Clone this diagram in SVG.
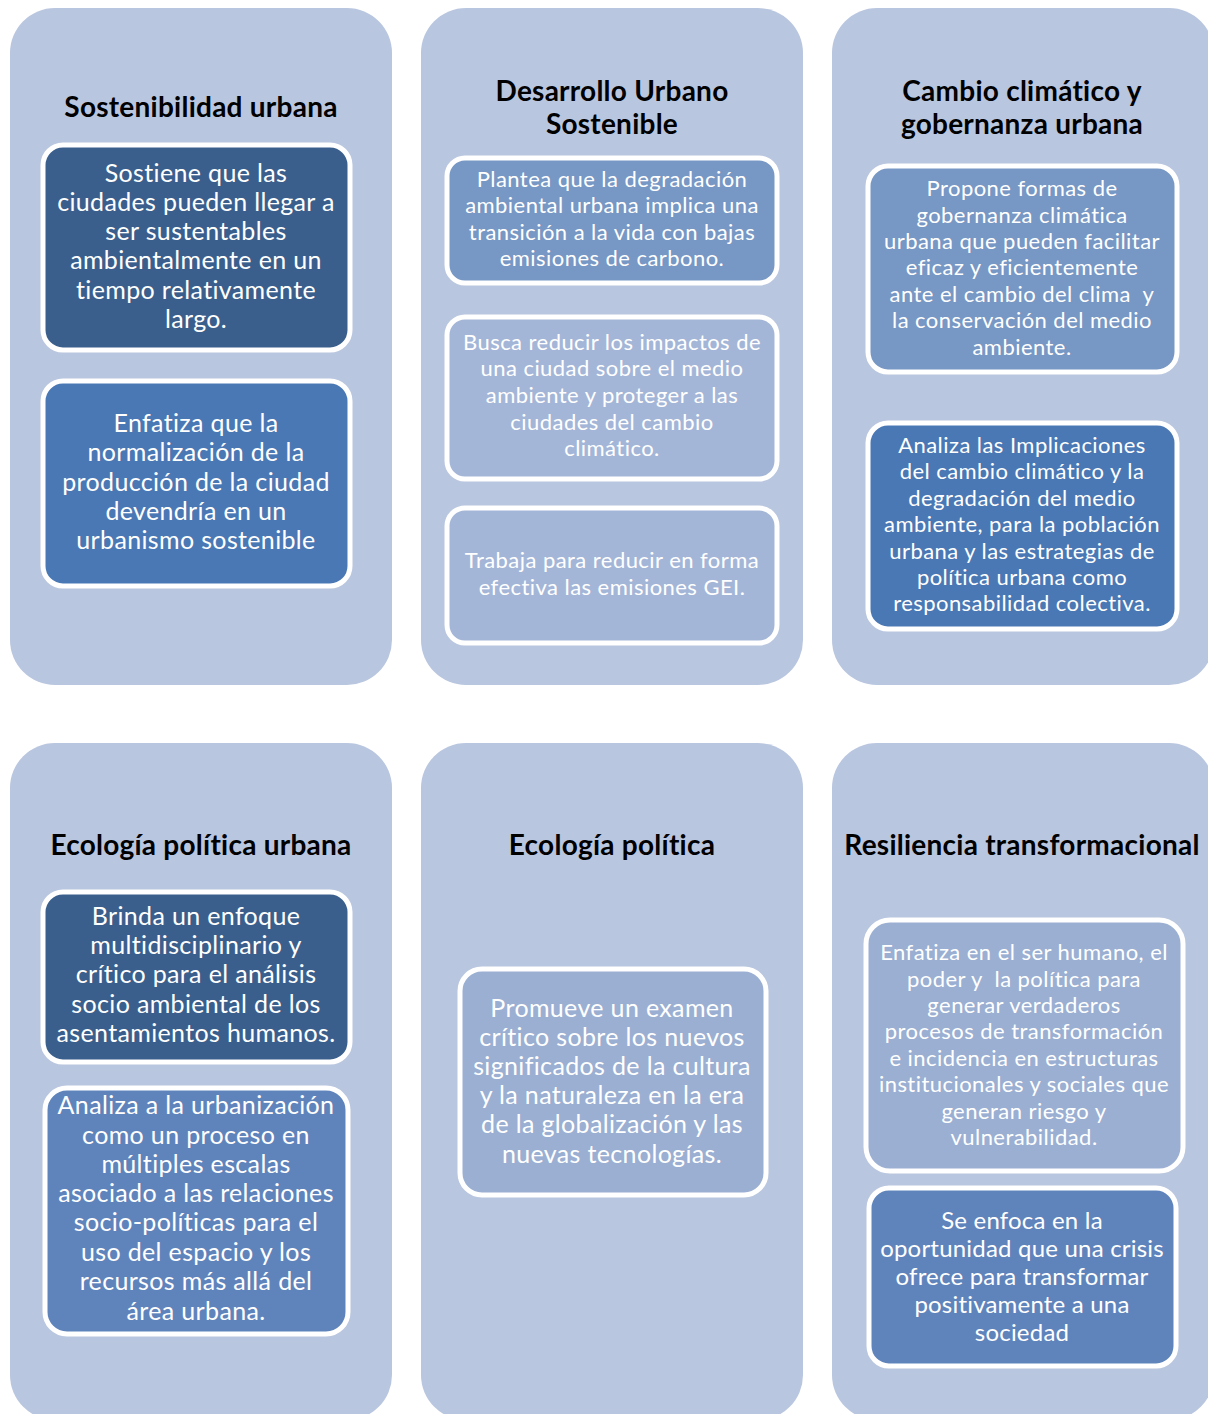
<svg xmlns="http://www.w3.org/2000/svg" width="1208" height="1414" viewBox="0 0 1208 1414">
<style>
.panel{fill:#B9C6DF}
.box{stroke:#FFFFFF;stroke-width:5}
.title{font-family:Lato,"Noto Sans",sans-serif;font-weight:bold;font-size:28px;letter-spacing:0.25px;fill:#000;text-anchor:middle}
.t{font-family:Lato,"Noto Sans",sans-serif;fill:#FFFFFF;text-anchor:middle}
.l{font-size:25px;letter-spacing:0.35px}
.s{font-size:22px;letter-spacing:0.45px}
.m{font-size:24px;letter-spacing:0.2px}
.pre{white-space:pre}
.c1{fill:#3A5F8D}.c2{fill:#4A78B4}.c3{fill:#7797C4}.c4{fill:#A4B6D7}.c5{fill:#9AAFD2}.c6{fill:#5F84BC}
</style>
<g id="connectors"></g>
<g id="panel-sostenibilidad">
<rect class="panel" x="10" y="8" width="382" height="677" rx="45"/>
<text class="title" x="201" y="117">Sostenibilidad urbana</text>
</g>
<g id="node-sost-1">
<rect class="box c1" x="43" y="145" width="307" height="205" rx="20"/>
<text class="t l" x="196" y="182">Sostiene que las</text>
<text class="t l" x="196" y="211">ciudades pueden llegar a</text>
<text class="t l" x="196" y="240">ser sustentables</text>
<text class="t l" x="196" y="269">ambientalmente en un</text>
<text class="t l" x="196" y="299">tiempo relativamente</text>
<text class="t l" x="196" y="328">largo.</text>
</g>
<g id="node-sost-2">
<rect class="box c2" x="43" y="381" width="307" height="205" rx="20"/>
<text class="t l" x="196" y="432">Enfatiza que la</text>
<text class="t l" x="196" y="461">normalización de la</text>
<text class="t l" x="196" y="491">producción de la ciudad</text>
<text class="t l" x="196" y="520">devendría en un</text>
<text class="t l" x="196" y="549">urbanismo sostenible</text>
</g>
<g id="panel-desarrollo">
<rect class="panel" x="421" y="8" width="382" height="677" rx="45"/>
<text class="title" x="612" y="101">Desarrollo Urbano</text>
<text class="title" x="612" y="134">Sostenible</text>
</g>
<g id="node-des-1">
<rect class="box c3" x="447" y="158" width="330" height="125" rx="18"/>
<text class="t s" x="612" y="187">Plantea que la degradación</text>
<text class="t s" x="612" y="213">ambiental urbana implica una</text>
<text class="t s" x="612" y="240">transición a la vida con bajas</text>
<text class="t s" x="612" y="266">emisiones de carbono.</text>
</g>
<g id="node-des-2">
<rect class="box c4" x="447" y="317" width="330" height="162" rx="18"/>
<text class="t s" x="612" y="350">Busca reducir los impactos de</text>
<text class="t s" x="612" y="376">una ciudad sobre el medio</text>
<text class="t s" x="612" y="403">ambiente y proteger a las</text>
<text class="t s" x="612" y="430">ciudades del cambio</text>
<text class="t s" x="612" y="456">climático.</text>
</g>
<g id="node-des-3">
<rect class="box c4" x="447" y="508" width="330" height="135" rx="18"/>
<text class="t s" x="612" y="568">Trabaja para reducir en forma</text>
<text class="t s" x="612" y="595">efectiva las emisiones GEI.</text>
</g>
<g id="panel-cambio">
<rect class="panel" x="832" y="8" width="382" height="677" rx="45"/>
<text class="title" x="1022" y="101">Cambio climático y</text>
<text class="title" x="1022" y="134">gobernanza urbana</text>
</g>
<g id="node-cam-1">
<rect class="box c3" x="868" y="166" width="309" height="206" rx="20"/>
<text class="t s" x="1022" y="196">Propone formas de</text>
<text class="t s" x="1022" y="223">gobernanza climática</text>
<text class="t s" x="1022" y="249">urbana que pueden facilitar</text>
<text class="t s" x="1022" y="275">eficaz y eficientemente</text>
<text class="t s pre" x="1022" y="302">ante el cambio del clima  y</text>
<text class="t s" x="1022" y="328">la conservación del medio</text>
<text class="t s" x="1022" y="355">ambiente.</text>
</g>
<g id="node-cam-2">
<rect class="box c2" x="868" y="423" width="309" height="206" rx="20"/>
<text class="t s" x="1022" y="453">Analiza las Implicaciones</text>
<text class="t s" x="1022" y="479">del cambio climático y la</text>
<text class="t s" x="1022" y="506">degradación del medio</text>
<text class="t s" x="1022" y="532">ambiente, para la población</text>
<text class="t s" x="1022" y="559">urbana y las estrategias de</text>
<text class="t s" x="1022" y="585">política urbana como</text>
<text class="t s" x="1022" y="611">responsabilidad colectiva.</text>
</g>
<g id="panel-epu">
<rect class="panel" x="10" y="743" width="382" height="677" rx="45"/>
<text class="title" x="201" y="855">Ecología política urbana</text>
</g>
<g id="node-epu-1">
<rect class="box c1" x="43" y="892" width="307" height="170" rx="20"/>
<text class="t l" x="196" y="925">Brinda un enfoque</text>
<text class="t l" x="196" y="954">multidisciplinario y</text>
<text class="t l" x="196" y="983">crítico para el análisis</text>
<text class="t l" x="196" y="1013">socio ambiental de los</text>
<text class="t l" x="196" y="1042">asentamientos humanos.</text>
</g>
<g id="node-epu-2">
<rect class="box c6" x="45" y="1088" width="303" height="246" rx="22"/>
<text class="t l" x="196" y="1114">Analiza a la urbanización</text>
<text class="t l" x="196" y="1144">como un proceso en</text>
<text class="t l" x="196" y="1173">múltiples escalas</text>
<text class="t l" x="196" y="1202">asociado a las relaciones</text>
<text class="t l" x="196" y="1231">socio-políticas para el</text>
<text class="t l" x="196" y="1261">uso del espacio y los</text>
<text class="t l" x="196" y="1290">recursos más allá del</text>
<text class="t l" x="196" y="1320">área urbana.</text>
</g>
<g id="panel-ep">
<rect class="panel" x="421" y="743" width="382" height="677" rx="45"/>
<text class="title" x="612" y="855">Ecología política</text>
</g>
<g id="node-ep-1">
<rect class="box c5" x="460" y="969" width="306" height="226" rx="22"/>
<text class="t l" x="612" y="1017">Promueve un examen</text>
<text class="t l" x="612" y="1046">crítico sobre los nuevos</text>
<text class="t l" x="612" y="1075">significados de la cultura</text>
<text class="t l" x="612" y="1104">y la naturaleza en la era</text>
<text class="t l" x="612" y="1133">de la globalización y las</text>
<text class="t l" x="612" y="1163">nuevas tecnologías.</text>
</g>
<g id="panel-rt">
<rect class="panel" x="832" y="743" width="382" height="677" rx="45"/>
<text class="title" x="1022" y="855">Resiliencia transformacional</text>
</g>
<g id="node-rt-1">
<rect class="box c5" x="866" y="920" width="317" height="251" rx="24"/>
<text class="t s" x="1024" y="960">Enfatiza en el ser humano, el</text>
<text class="t s pre" x="1024" y="987">poder y  la política para</text>
<text class="t s" x="1024" y="1013">generar verdaderos</text>
<text class="t s" x="1024" y="1039">procesos de transformación</text>
<text class="t s" x="1024" y="1066">e incidencia en estructuras</text>
<text class="t s" x="1024" y="1092">institucionales y sociales que</text>
<text class="t s" x="1024" y="1119">generan riesgo y</text>
<text class="t s" x="1024" y="1145">vulnerabilidad.</text>
</g>
<g id="node-rt-2">
<rect class="box c6" x="869" y="1188" width="307" height="178" rx="20"/>
<text class="t m" x="1022" y="1229">Se enfoca en la</text>
<text class="t m" x="1022" y="1257">oportunidad que una crisis</text>
<text class="t m" x="1022" y="1285">ofrece para transformar</text>
<text class="t m" x="1022" y="1313">positivamente a una</text>
<text class="t m" x="1022" y="1341">sociedad</text>
</g>
</svg>
